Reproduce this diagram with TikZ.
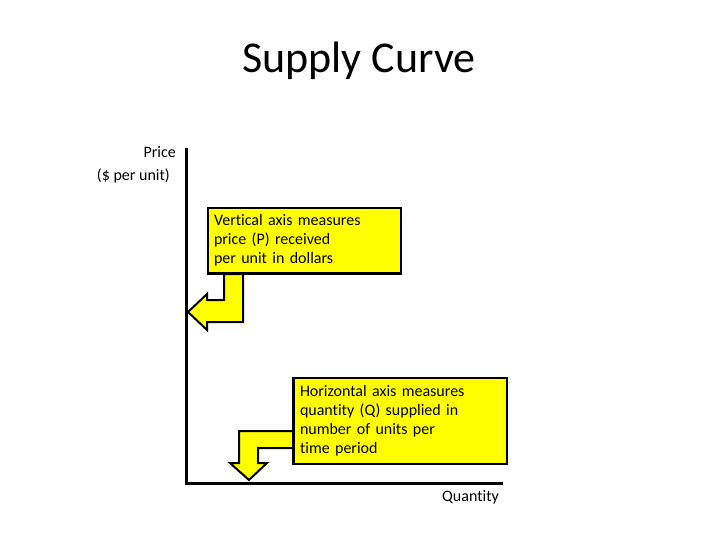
\documentclass[tikz,border=0pt]{standalone}
\usepackage{fontspec}
\setmainfont{Carlito}[Ligatures=NoCommon]
\usepackage{xcolor}
\definecolor{cNote}{HTML}{FFFF00}
\usepackage{tikz}
\usetikzlibrary{positioning, calc}

\begin{document}
\begin{tikzpicture}[
    x=1pt, y=-1pt,
    infobox/.style={draw, line width=2pt, fill=cNote, align=left,
                    anchor=north west, inner xsep=6pt, inner ysep=0pt,
                    font=\fontsize{16}{19}\selectfont},
    callout/.style={draw, line width=2pt, fill=cNote, line join=miter},
    axis/.style={line width=3pt},
    axlabel/.style={inner sep=0pt, font=\fontsize{16}{19}\selectfont}
]
\useasboundingbox (0,0) rectangle (720,540);
\node[anchor=base, font=\fontsize{44}{50}\selectfont] (title) at (359,73) {Supply Curve};

\coordinate (origin) at (186,483);
\coordinate (ytop) at (186,148);
\coordinate (xend) at (503,483);
\draw[axis] (ytop) -- (origin) -- (xend);

\node[axlabel, anchor=base east] (price) at (176,158) {Price};
\node[axlabel, anchor=base east] (unit) at (170,181) {(\$ per unit)};
\node[axlabel, anchor=base west] (qty) at (442,501) {Quantity};

\node[infobox, text width=181pt, minimum height=65pt] (vbox) at (207,207)
    {Vertical axis measures\\price (P) received\\per unit in dollars};
\node[infobox, text width=201pt, minimum height=86pt] (hbox) at (293,377)
    {Horizontal axis measures\\quantity (Q) supplied in\\number of units per\\time period};

\draw[callout] ($(vbox.south west)+(17,0)$) -- ++(19,0) -- ++(0,48) -- ++(-36,0)
    -- ++(0,8) -- ++(-19,-18) -- ++(19,-18) -- ++(0,6) -- ++(17,0) -- cycle;
\draw[callout] ($(hbox.north west)+(0,54)$) -- ++(-54,0) -- ++(0,32) -- ++(-9,0)
    -- ++(19,17) -- ++(18,-17) -- ++(-9,0) -- ++(0,-15) -- ++(35,0) -- cycle;
\draw[line width=2pt] (vbox.south west) -- (vbox.south east);
\draw[line width=2pt] (hbox.north west) -- (hbox.south west);
\end{tikzpicture}
\end{document}
